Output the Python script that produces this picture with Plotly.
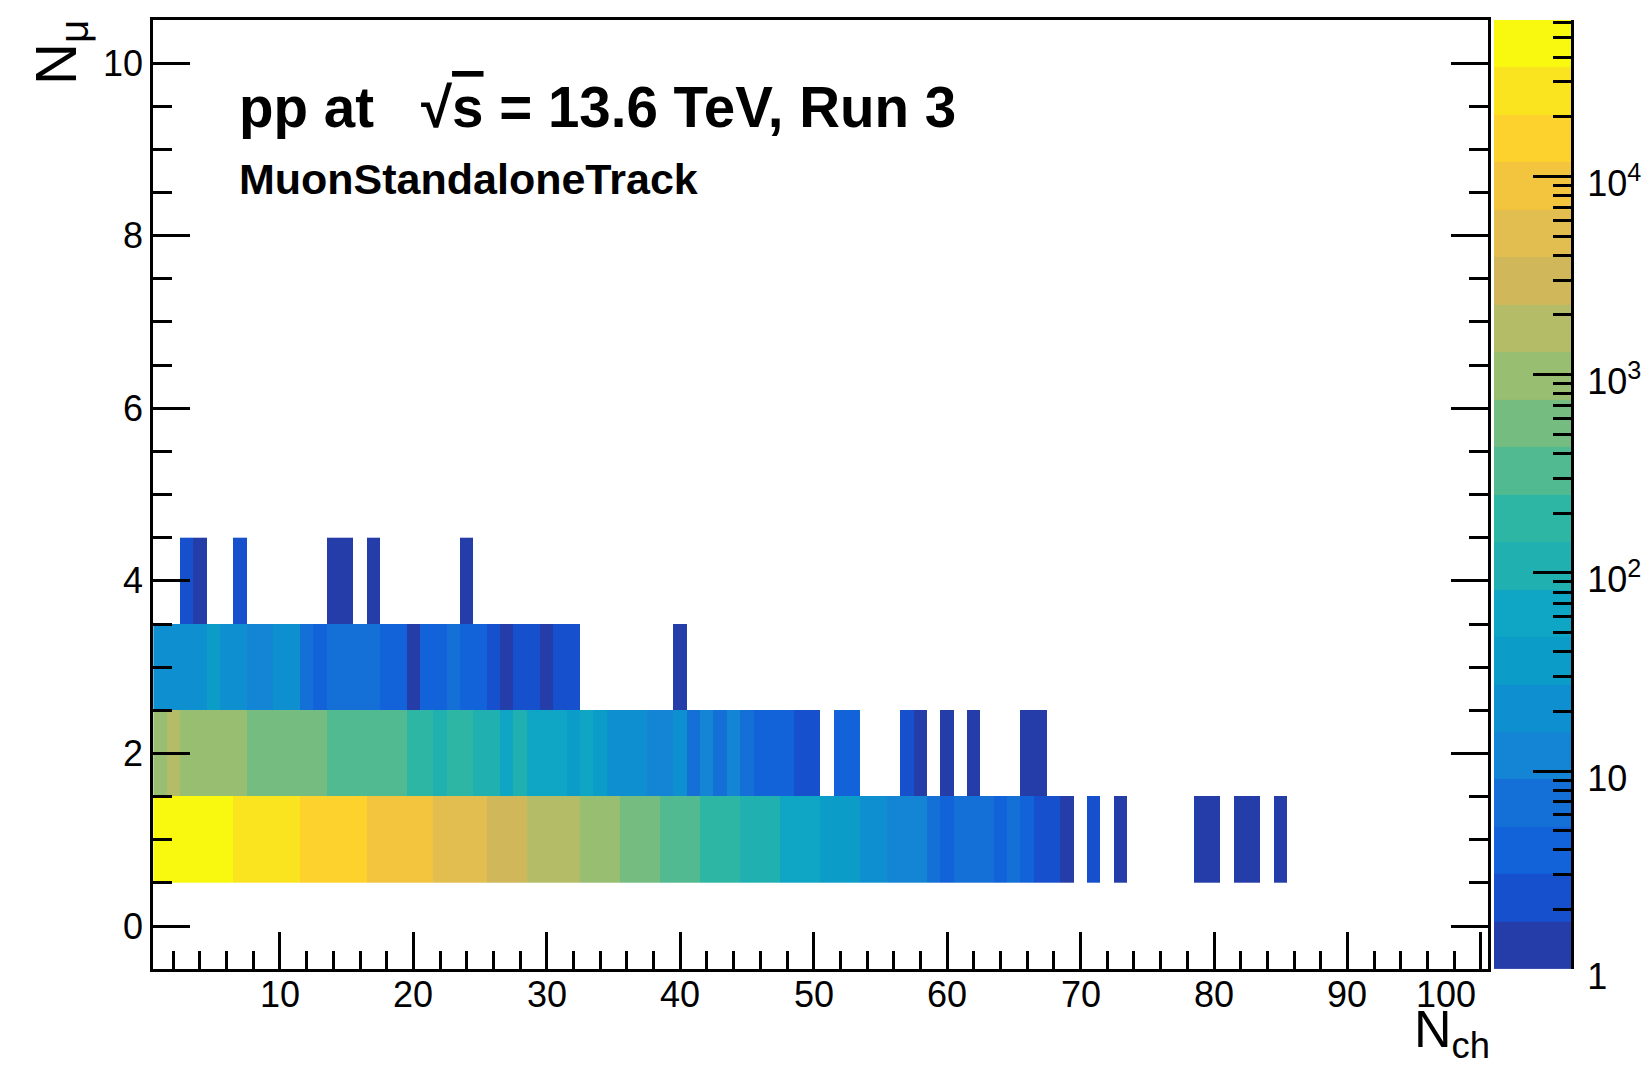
import math
import plotly.graph_objects as go

# ---------------- data ----------------
nch_edges_range = [0.5, 100.5]
nmu_rows = [1, 2, 3, 4]

row1_nch = list(range(1, 70)) + [71, 73, 79, 80, 82, 83, 85]
row1_counts = [52000, 58000, 57000, 50000, 44000, 38000, 33000, 30000, 27000, 24000,
               21500, 19500, 17500, 15500, 14000, 12500, 11200, 10000, 9000, 8000,
               7100, 6300, 5600, 4900, 4300, 3700, 3200, 2700, 2150, 1850,
               1600, 1380, 1200, 1000, 850, 700, 590, 480, 400, 340,
               280, 230, 195, 165, 135, 115, 95, 78, 66, 55,
               45, 38, 31, 25, 20, 15, 12, 10, 8, 5,
               7, 7, 6, 4, 6, 4, 2, 2, 1,
               2, 1, 1, 1, 1, 1, 1]

row2_nch = list(range(1, 51)) + [52, 53, 57, 58, 60, 62, 66, 67]
row2_counts = [1100, 1500, 1250, 1200, 1100, 1000, 900, 720, 680, 630,
               560, 500, 450, 420, 390, 350, 320, 290, 260, 230,
               200, 140, 165, 150, 125, 110, 80, 90, 75, 65,
               55, 45, 50, 40, 26, 23, 20, 14, 12, 17,
               8, 10, 7, 10, 6, 5, 4, 4, 2, 2,
               4, 4, 2, 1, 1, 1, 1, 1]

row3_nch = list(range(1, 33)) + [40]
row3_counts = [25, 24, 23, 22, 30, 22, 19, 14, 13, 17,
               16, 8, 5, 8, 7, 7, 6, 5, 4, 1,
               4, 4, 6, 4, 4, 2, 1, 2, 2, 1,
               2, 2, 1]

row4_nch = [3, 4, 7, 14, 15, 17, 24]
row4_counts = [2, 1, 2, 1, 1, 1, 1]

# colour palette levels (bottom -> top), 20 contour levels on log z
palette = ["#253DA8", "#1650CC", "#1262DA", "#1470D6", "#1484D4",
           "#0E90D0", "#0C9CC8", "#0EA6C4", "#20B0B0", "#2EB6A4",
           "#52BA90", "#74BC80", "#98BE72", "#B4BC68", "#D0B85A",
           "#E2BE50", "#F3C43E", "#FDD22D", "#FAE41F", "#F9F90F"]
ZMAX_LOG = 4.79

x_tick_vals = [10, 20, 30, 40, 50, 60, 70, 80, 90, 100]
x_tick_text = ["10", "20", "30", "40", "50", "60", "70", "80", "90", "100"]
y_tick_vals = [0, 2, 4, 6, 8, 10]
cb_tick_vals = [1, 10, 100, 1000, 10000]
cb_tick_text = ["1", "10", "10<sup>2</sup>", "10<sup>3</sup>", "10<sup>4</sup>"]

# ---------------- build ----------------
W, H = 1650, 1070
FONT = "Liberation Sans, Arial, Helvetica, sans-serif"
n_levels = len(palette)
lw = ZMAX_LOG / n_levels

colorscale = []
for i, c in enumerate(palette):
    colorscale.append([i / n_levels, c])
    colorscale.append([(i + 1) / n_levels, c])

nch_centers = list(range(1, 101))
z = []
for nchs, counts in [(row1_nch, row1_counts), (row2_nch, row2_counts),
                     (row3_nch, row3_counts), (row4_nch, row4_counts)]:
    line = [None] * len(nch_centers)
    for n, c in zip(nchs, counts):
        line[n - 1] = math.log10(c)
    z.append(line)

fig = go.Figure()
fig.add_trace(go.Heatmap(
    x=nch_centers, y=nmu_rows, z=z, zmin=0, zmax=ZMAX_LOG,
    colorscale=colorscale, showscale=False, hoverinfo="skip",
    xaxis="x", yaxis="y"))

cb_edges = [10 ** (k * lw) for k in range(n_levels + 1)]
cb_z = [[(k + 0.5) * lw] for k in range(n_levels)]
fig.add_trace(go.Heatmap(
    x=[0, 1], y=cb_edges, z=cb_z, zmin=0, zmax=ZMAX_LOG,
    colorscale=colorscale, showscale=False, hoverinfo="skip",
    xaxis="x2", yaxis="y2"))

minor_cb = []
for d in range(0, 5):
    for m in range(2, 10):
        v = m * 10 ** d
        if math.log10(v) <= ZMAX_LOG:
            minor_cb.append(v)

x_dom = [153.2 / W, 1487.6 / W]
y_dom = [1 - 969.2 / H, 1 - 19.9 / H]
tickfont = dict(size=36, family=FONT, color="black")

fig.update_layout(
    width=W, height=H,
    margin=dict(l=0, r=0, t=0, b=0, autoexpand=False),
    paper_bgcolor="white", plot_bgcolor="white",
    showlegend=False,
    xaxis=dict(domain=x_dom, range=nch_edges_range, anchor="y",
               tickmode="array", tickvals=x_tick_vals, showticklabels=False,
               ticks="inside", ticklen=37, tickwidth=3, tickcolor="black",
               showline=True, linewidth=3, linecolor="black", mirror=True,
               showgrid=False, zeroline=False,
               minor=dict(ticks="inside", dtick=2, tick0=0, ticklen=18,
                          tickwidth=3, tickcolor="black", showgrid=False)),
    yaxis=dict(domain=y_dom, range=[-0.5, 10.5], anchor="x",
               tickmode="array", tickvals=y_tick_vals,
               ticks="inside", ticklen=37, tickwidth=3, tickcolor="black",
               showline=True, linewidth=3, linecolor="black", mirror="ticks",
               showgrid=False, zeroline=False, tickfont=tickfont,
               minor=dict(ticks="inside", dtick=0.5, tick0=0, ticklen=19,
                          tickwidth=3, tickcolor="black", showgrid=False)),
    xaxis2=dict(domain=[1494 / W, 1571 / W], range=[0, 1], anchor="y2",
                visible=False, fixedrange=True),
    yaxis2=dict(domain=y_dom, type="log", range=[0, ZMAX_LOG], anchor="x2",
                side="right", tickmode="array", tickvals=cb_tick_vals,
                ticktext=cb_tick_text, ticks="inside", ticklen=38, tickwidth=3,
                tickcolor="black", showline=True, linewidth=3, linecolor="black",
                showgrid=False, zeroline=False, tickfont=tickfont,
                ticklabelstandoff=6, ticklabelshift=7,
                minor=dict(tickmode="array", tickvals=minor_cb, ticks="inside",
                           ticklen=18, tickwidth=3, tickcolor="black", showgrid=False)),
)

ann = []
# x tick labels (the last one is pulled inside the frame, as in the reference)
for v, t in zip(x_tick_vals, x_tick_text):
    last = (v == x_tick_vals[-1])
    ann.append(dict(xref="x", yref="paper", x=v, y=1 - 994 / H,
                    xshift=-3 if last else 0,
                    xanchor="right" if last else "center", yanchor="middle",
                    showarrow=False, text=t, font=tickfont))
ann.append(dict(xref="paper", yref="paper", x=237 / W, y=1 - 108 / H,
                xanchor="left", yanchor="middle", showarrow=False,
                text="<b>pp at\u00a0\u00a0\u00a0\u221a<span style='text-decoration:overline'>s</span> = 13.6 TeV, Run 3</b>",
                font=dict(size=56.5, family=FONT, color="black")))
ann.append(dict(xref="paper", yref="paper", x=237 / W, y=1 - 179 / H,
                xanchor="left", yanchor="middle", showarrow=False,
                text="<b>MuonStandaloneTrack</b>",
                font=dict(size=43, family=FONT, color="black")))
ann.append(dict(xref="paper", yref="paper", x=60 / W, y=1 - 53 / H,
                xanchor="center", yanchor="middle", showarrow=False,
                textangle=-90, text="N<sub>\u03bc</sub>",
                font=dict(size=58, family=FONT, color="black")))
ann.append(dict(xref="paper", yref="paper", x=1492 / W, y=1 - 1033 / H,
                xanchor="right", yanchor="middle", showarrow=False,
                text="N<sub>ch</sub>",
                font=dict(size=52, family=FONT, color="black")))
fig.update_layout(annotations=ann)

fig.write_html("out.html")
